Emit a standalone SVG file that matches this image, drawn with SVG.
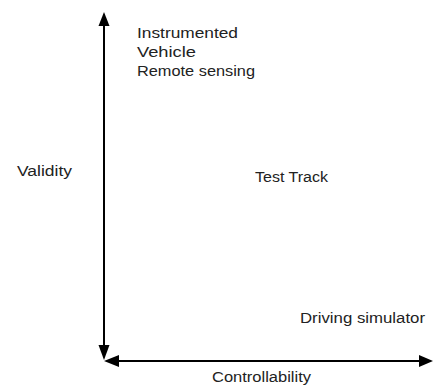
<svg xmlns="http://www.w3.org/2000/svg" width="433" height="385" viewBox="0 0 433 385">
<style>
text{font-family:"Liberation Sans",Arial,sans-serif;font-size:14px;fill:#222}
.ax{stroke:#000;stroke-width:2;fill:none}
.hd{fill:#000}
</style>
<rect width="433" height="385" fill="#fff"/>
<g id="connectors">
<line class="ax" x1="104" y1="24" x2="104" y2="347"/>
<polygon class="hd" points="104,12 98.5,26 109.5,26"/>
<polygon class="hd" points="104,360 98.5,345 109.5,345"/>
<line class="ax" x1="118" y1="361" x2="420" y2="361"/>
<polygon class="hd" points="104,361 119,355 119,367"/>
<polygon class="hd" points="433,361 419,355 419,367"/>
</g>
<g id="instrumented"><text x="137" y="38" textLength="101" lengthAdjust="spacingAndGlyphs">Instrumented</text>
<text x="137" y="57" textLength="59" lengthAdjust="spacingAndGlyphs">Vehicle</text>
<text x="137" y="76" textLength="118" lengthAdjust="spacingAndGlyphs">Remote sensing</text></g>
<g id="validity"><text x="17" y="176" textLength="55" lengthAdjust="spacingAndGlyphs">Validity</text></g>
<g id="testtrack"><text x="255" y="182" textLength="73" lengthAdjust="spacingAndGlyphs">Test Track</text></g>
<g id="simulator"><text x="300" y="323" textLength="125" lengthAdjust="spacingAndGlyphs">Driving simulator</text></g>
<g id="controllability"><text x="212" y="382" textLength="99" lengthAdjust="spacingAndGlyphs">Controllability</text></g>
</svg>
